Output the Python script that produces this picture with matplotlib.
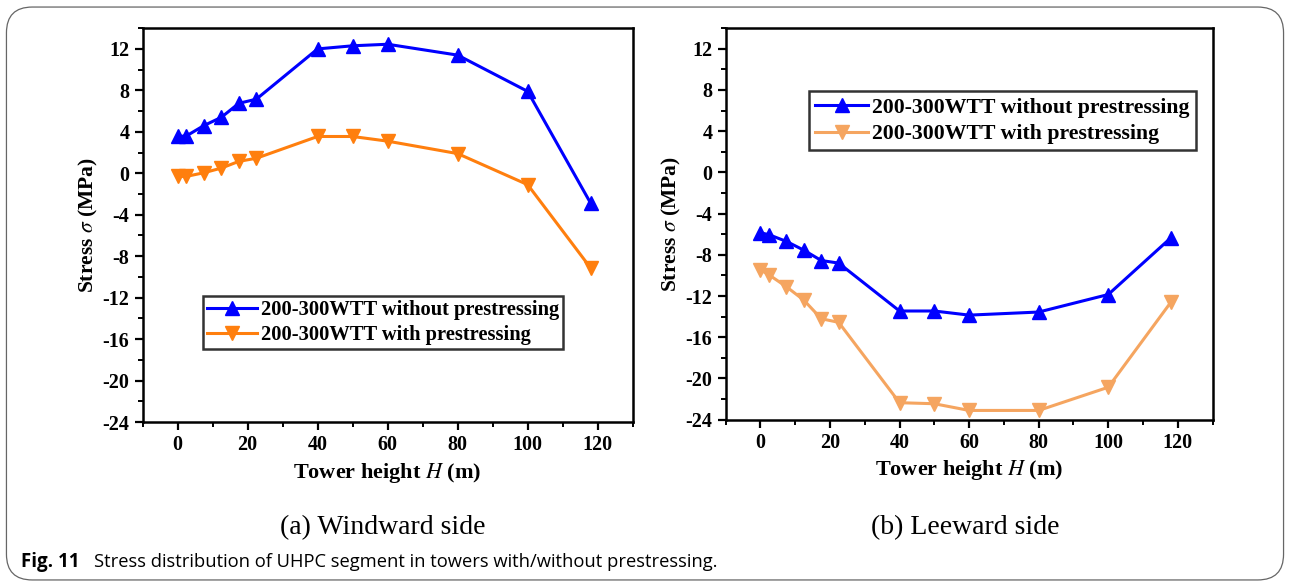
import matplotlib
matplotlib.use("Agg")
import matplotlib.pyplot as plt
from matplotlib.patches import FancyBboxPatch
from matplotlib.ticker import MultipleLocator

plt.rcParams['font.family'] = ['Liberation Serif', 'DejaVu Serif']
plt.rcParams['mathtext.fontset'] = 'stix'
plt.rcParams['axes.unicode_minus'] = False

# tower height (m)
height = [0, 2.5, 7.5, 12.5, 17.5, 22.5, 40, 50, 60, 80, 100, 118]

# windward side stress (MPa)
wind_no_ps = [3.55, 3.6, 4.6, 5.4, 6.75, 7.15, 12.0, 12.3, 12.45, 11.4, 7.9, -2.9]
wind_ps = [-0.3, -0.3, 0.05, 0.5, 1.15, 1.45, 3.55, 3.55, 3.1, 1.9, -1.1, -9.15]

# leeward side stress (MPa)
lee_no_ps = [-5.85, -6.05, -6.7, -7.55, -8.55, -8.8, -13.45, -13.45, -13.85, -13.55, -11.85, -6.35]
lee_ps = [-9.45, -9.95, -11.1, -12.4, -14.2, -14.55, -22.35, -22.45, -23.1, -23.1, -20.85, -12.6]

labels = ['200-300WTT without prestressing', '200-300WTT with prestressing']
sub_titles = ['(a) Windward side', '(b) Leeward side']

fig = plt.figure(figsize=(12.9, 5.87), dpi=100)

# rounded frame around the whole figure
frame = FancyBboxPatch((0.005, 0.012), 0.99, 0.976, boxstyle='round,pad=0,rounding_size=0.02',
                       transform=fig.transFigure, fill=False, edgecolor='#666666', linewidth=0.9,
                       mutation_aspect=1290 / 587)
fig.patches.append(frame)

ax1 = fig.add_axes([0.1105, 0.281, 0.380, 0.671])
ax2 = fig.add_axes([0.5625, 0.285, 0.3775, 0.667])


def style_axis(ax):
    ax.set_xlim(-10, 130)
    ax.set_ylim(-24, 14)
    ax.xaxis.set_major_locator(MultipleLocator(20))
    ax.xaxis.set_minor_locator(MultipleLocator(10))
    ax.yaxis.set_major_locator(MultipleLocator(4))
    ax.yaxis.set_minor_locator(MultipleLocator(2))
    ax.set_xticks(range(0, 121, 20))
    ax.tick_params(which='major', direction='out', length=6, width=1.6, labelsize=14.5)
    ax.tick_params(which='minor', direction='out', length=3.5, width=1.4)
    for side in ['top', 'right', 'left', 'bottom']:
        ax.spines[side].set_linewidth(1.8)
    for lab in ax.get_xticklabels() + ax.get_yticklabels():
        lab.set_fontweight('bold')
    ax.set_xlabel('Tower height $\\mathbf{\\mathit{H}}$ (m)', fontsize=16, fontweight='bold', labelpad=4)
    ax.set_ylabel('Stress $\\sigma$ (MPa)', fontsize=15.5, fontweight='bold', labelpad=2)


ax1.plot(height, wind_no_ps, color='#0000ff', marker='^', markersize=9.5, linewidth=2.2, label=labels[0])
ax1.plot(height, wind_ps, color='#ff7f0e', marker='v', markersize=9.5, linewidth=2.2, label=labels[1])
style_axis(ax1)
leg1 = ax1.legend(loc='upper left', bbox_to_anchor=(0.124, 0.32), fancybox=False, edgecolor='black',
                  prop={'weight': 'bold', 'size': 14.8}, handlelength=2.4, borderpad=0.2,
                  labelspacing=0.25, handletextpad=0.2, borderaxespad=0)
leg1.get_frame().set_linewidth(1.8)

ax2.plot(height, lee_no_ps, color='#0000ff', marker='^', markersize=9.5, linewidth=2.2, label=labels[0])
ax2.plot(height, lee_ps, color='#f5a560', marker='v', markersize=9.5, linewidth=2.2, label=labels[1])
style_axis(ax2)
leg2 = ax2.legend(loc='upper left', bbox_to_anchor=(0.172, 0.839), fancybox=False, edgecolor='black',
                  prop={'weight': 'bold', 'size': 15.7}, handlelength=2.4, borderpad=0.28,
                  labelspacing=0.3, handletextpad=0.2, borderaxespad=0)
leg2.get_frame().set_linewidth(1.8)

fig.text(0.297, 0.102, sub_titles[0], ha='center', va='center', fontsize=20)
fig.text(0.748, 0.102, sub_titles[1], ha='center', va='center', fontsize=20)

fig.text(0.016, 0.042, 'Fig. 11', ha='left', va='center', fontsize=13.5, fontweight='bold',
         family=['Open Sans', 'DejaVu Sans'])
fig.text(0.073, 0.042, 'Stress distribution of UHPC segment in towers with/without prestressing.',
         ha='left', va='center', fontsize=13.2, family=['Open Sans', 'DejaVu Sans'])

fig.savefig('out.png', dpi=100)
